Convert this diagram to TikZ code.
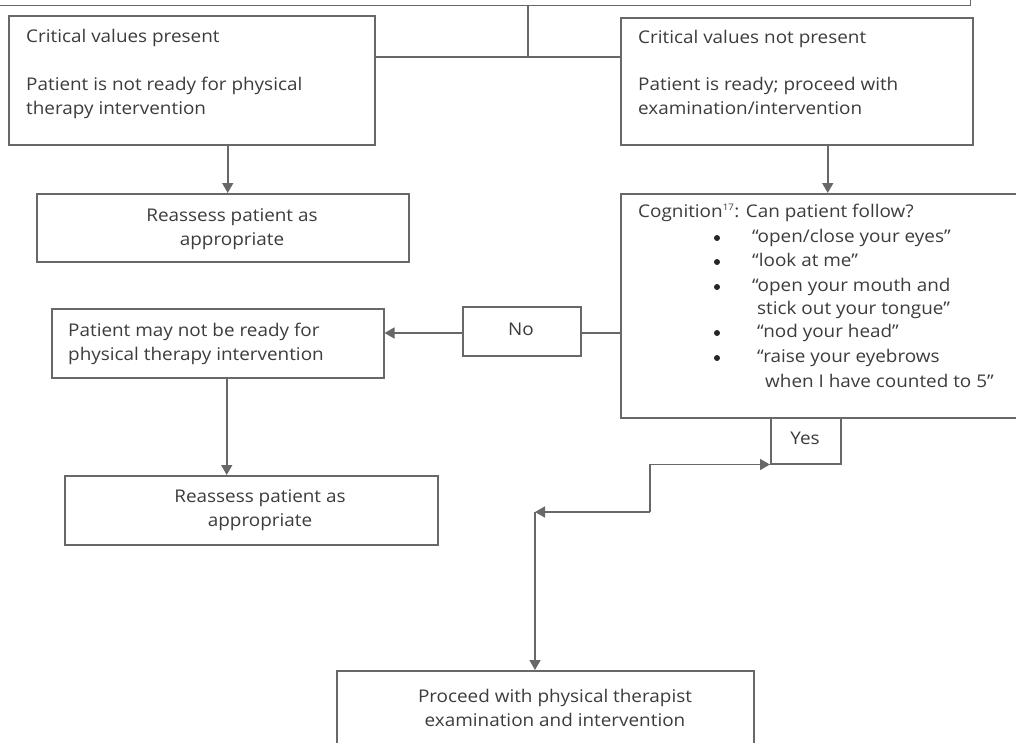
\documentclass[tikz,border=0pt]{standalone}
\usepackage{fontspec}
\setmainfont{Open Sans}[FakeStretch=1.08]
\usetikzlibrary{arrows.meta}
\definecolor{ln}{HTML}{686868}
\definecolor{tx}{HTML}{3C3C3C}
\tikzset{
  box/.style={draw=ln, line width=1.5pt, inner sep=0pt, anchor=north west},
  txt/.style={inner sep=0pt, text=tx, anchor=west, text height=12.5pt, text depth=4pt},
  ctxt/.style={inner sep=0pt, text=tx, align=center, font=\fontsize{17.5}{23.5}\selectfont},
  dot/.style={circle, fill=black!85, inner sep=0pt, minimum size=6pt},
  conn/.style={draw=ln, line width=1.5pt},
  arr/.style={conn, -{Triangle[width=11pt,length=10pt]}},
}
\begin{document}
\begin{tikzpicture}[x=1pt,y=-1pt, font=\fontsize{17.5}{21}\selectfont]
\path[use as bounding box, clip] (0,0) rectangle (1016,742);
\fill[white] (0,0) rectangle (1016,742);

% top (cut off) box
\node[box, anchor=south east, minimum width=1000pt, minimum height=60pt] (top) at (971,6) {};

% critical values present
\node[box, minimum width=366pt, minimum height=129pt] (l1) at (8,15) {};
\node[txt] (l1a) at (26,38) {Critical values present};
\node[txt] (l1b) at (26,86) {Patient is not ready for physical};
\node[txt] (l1c) at (26,110) {therapy intervention};

% critical values not present
\node[box, minimum width=352pt, minimum height=127pt] (r1) at (620,17) {};
\node[txt] (r1a) at (638,39) {Critical values not present};
\node[txt] (r1b) at (638,86) {Patient is ready; proceed with};
\node[txt] (r1c) at (638,110) {examination/intervention};

% joint line
\coordinate (tj) at (528,6);
\draw[conn] (tj) -- (tj |- 0,57);
\draw[conn] (l1.east |- 0,57) -- (r1.west |- 0,57);

% reassess 1
\node[box, minimum width=372pt, minimum height=68pt] (ra1) at (36,193) {};
\node[ctxt] (ra1t) at (232,229) {Reassess patient as\\appropriate};
\draw[arr] ([xshift=36pt]l1.south) -- ([xshift=36pt]l1.south |- ra1.north);

% cognition
\node[box, minimum width=400pt, minimum height=224pt] (cog) at (620,193) {};
\draw[arr] ([xshift=31pt]r1.south) -- ([xshift=31pt]r1.south |- cog.north);
\node[txt] (c0) at (638,213) {Cognition\textsuperscript{\fontsize{9}{9}\selectfont 17}: Can patient follow?};
\foreach \n/\y in {1/238,2/262,3/287,4/333,5/358}{
  \node[dot] (b\n) at (717,\y) {};
}
\node[txt] (c1) at (752,238) {“open/close your eyes”};
\node[txt] (c2) at (752,262) {“look at me”};
\node[txt] (c3) at (752,287) {“open your mouth and};
\node[txt] (c4) at (757,310) {stick out your tongue”};
\node[txt] (c5) at (757,333) {“nod your head”};
\node[txt] (c6) at (757,358) {“raise your eyebrows};
\node[txt] (c7) at (765,383) {when I have counted to 5”};

% No
\node[box, minimum width=118pt, minimum height=49pt] (no) at (462,306) {};
\node[txt, anchor=center] (not) at (521,331) {No};
\coordinate (nr) at (580,333);
\coordinate (nl) at (462,333);
\draw[conn] (nr) -- (nr -| cog.west);

% patient may not be ready
\node[box, minimum width=332pt, minimum height=69pt] (l2) at (51,308) {};
\node[txt] (l2a) at (68,332) {Patient may not be ready for};
\node[txt] (l2b) at (68,356) {physical therapy intervention};
\draw[arr] (nl) -- (nl -| l2.east);

% reassess 2
\node[box, minimum width=373pt, minimum height=69pt] (ra2) at (64,475) {};
\node[ctxt] (ra2t) at (260,510) {Reassess patient as\\appropriate};
\draw[arr] ([xshift=9pt]l2.south) -- ([xshift=9pt]l2.south |- ra2.north);

% Yes
\node[box, minimum width=70pt, minimum height=46pt] (yes) at (770,417) {};
\node[txt, anchor=center] (yest) at (805,440) {Yes};

% bottom box
\node[box, minimum width=417pt, minimum height=100pt] (bot) at (336,670) {};
\node[ctxt] (bott) at (555,708) {Proceed with physical therapist\\examination and intervention};

% yes path
\coordinate (j1) at (650,512);
\coordinate (j2) at (535,512);
\draw[arr] (j1) |- (yes.south west);
\draw[arr] (j1) -- (j2);
\draw[arr] (j2) -- (j2 |- bot.north);
\end{tikzpicture}
\end{document}
